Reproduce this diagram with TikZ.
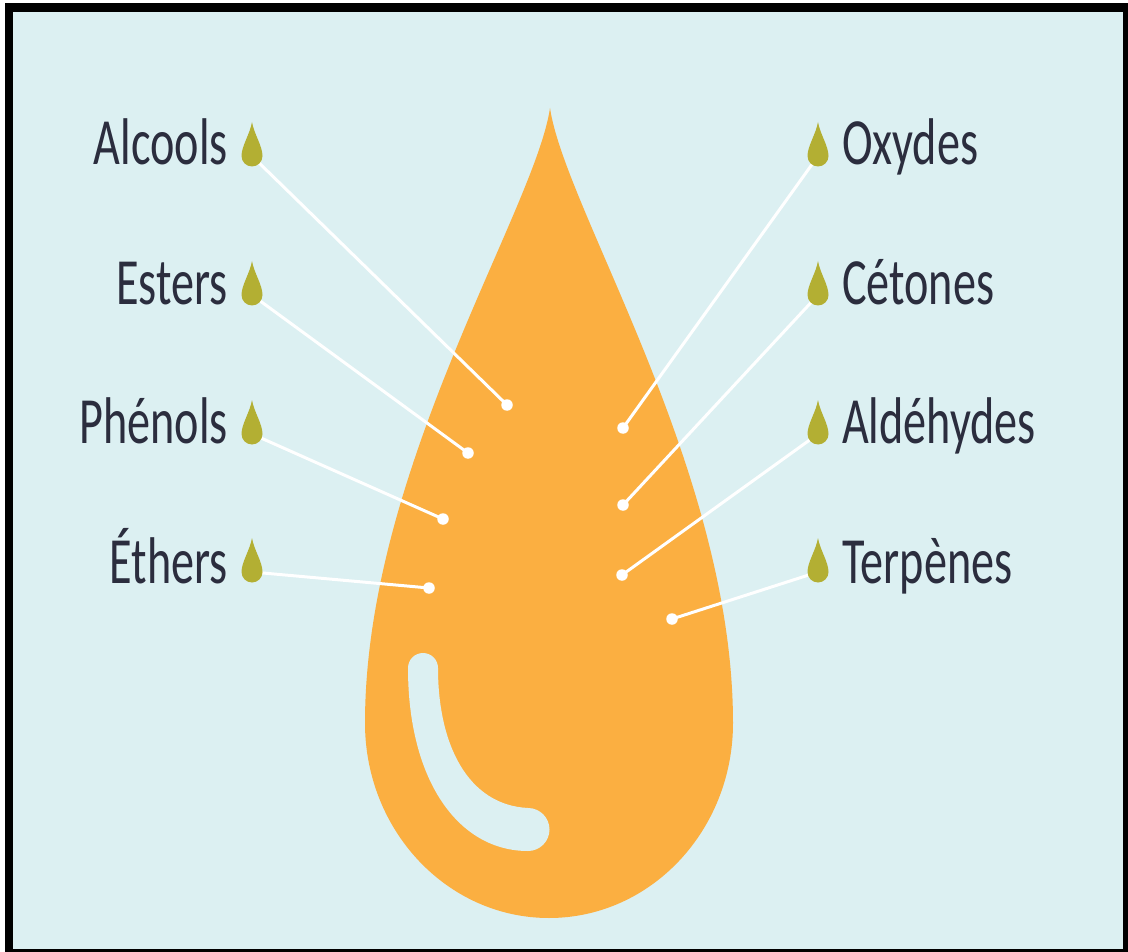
\documentclass[tikz,border=0pt]{standalone}
\usepackage{fontspec}
\setmainfont{Carlito}[FakeStretch=0.70]
\definecolor{bgcyan}{HTML}{DCF0F2}
\definecolor{dropor}{HTML}{FBAF41}
\definecolor{olive}{HTML}{B3AF33}
\definecolor{ink}{HTML}{2B2D3E}
\tikzset{
  lab/.style={text=ink, inner sep=0pt, font=\fontsize{66}{70}\selectfont},
  labl/.style={lab, anchor=base east},
  labr/.style={lab, anchor=base west},
  link/.style={draw=white, line width=3pt},
  dotn/.style={circle, fill=white, inner sep=0pt, minimum size=11.5pt},
  gdrop/.pic={
    \fill[olive] (0,-34) .. controls (-2,-22) and (-10.5,-10) .. (-10.5,0)
      arc[start angle=180, end angle=0, radius=10.5]
      .. controls (10.5,-10) and (2,-22) .. (0,-34) -- cycle;
  }
}
\begin{document}
\begin{tikzpicture}[x=1pt,y=-1pt]
\useasboundingbox (0,0) rectangle (1128,952);
% frame and background
\fill[white] (0,0) rectangle (1128,952);
\fill[black] (5,3) rectangle (1128,952);
\fill[bgcyan] (13,12) rectangle (1123,949);

% large drop
\fill[dropor] (550,108) .. controls (535,210) and (365,470) .. (365,723)
  arc[start angle=180, end angle=0, x radius=184, y radius=195]
  .. controls (733,470) and (565,210) .. (550,108) -- cycle;

% light reflection band
\fill[bgcyan] (408,668) arc[start angle=180, end angle=360, radius=15]
  .. controls (438,745) and (468,805) .. (528,808)
  arc[start angle=-90, end angle=90, radius=21.5]
  .. controls (458,851) and (408,780) .. (408,668) -- cycle;

% anchor points of the small drops
\coordinate (g1) at (252,156);
\coordinate (g2) at (252,295);
\coordinate (g3) at (252,434);
\coordinate (g4) at (252,572);
\coordinate (g5) at (818,156);
\coordinate (g6) at (818,295);
\coordinate (g7) at (818,434);
\coordinate (g8) at (818,572);

% end points inside the large drop
\node[dotn] (d1) at (507,405) {};
\node[dotn] (d2) at (468,453) {};
\node[dotn] (d3) at (443,519) {};
\node[dotn] (d4) at (429,588) {};
\node[dotn] (d5) at (623,428) {};
\node[dotn] (d6) at (623,505) {};
\node[dotn] (d7) at (622,575) {};
\node[dotn] (d8) at (672,619) {};

% connectors
\foreach \i in {1,...,8} { \draw[link] (g\i) -- (d\i.center); }

% small drops
\foreach \i in {1,...,8} { \pic at (g\i) {gdrop}; }

% labels
\node[labl] (t1) at (228,165) {Alcools};
\node[labl] (t2) at (228,305) {Esters};
\node[labl] (t3) at (228,443) {Phénols};
\node[labl] (t4) at (228,583) {Éthers};
\node[labr] (t5) at (842,165) {Oxydes};
\node[labr] (t6) at (842,305) {Cétones};
\node[labr] (t7) at (842,443) {Aldéhydes};
\node[labr] (t8) at (842,583) {Terpènes};
\end{tikzpicture}
\end{document}
